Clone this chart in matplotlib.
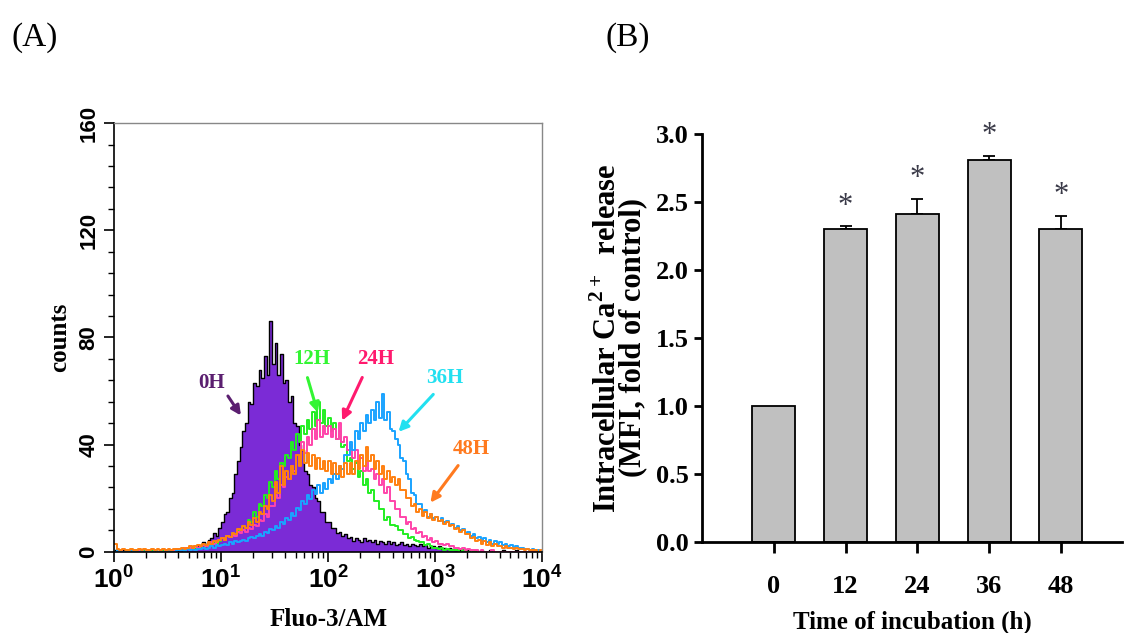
import numpy as np
import matplotlib
matplotlib.use('Agg')
from matplotlib import pyplot as plt
from matplotlib.ticker import MultipleLocator, LogLocator, NullFormatter

plt.rcParams['mathtext.fontset'] = 'custom'
plt.rcParams['mathtext.rm'] = 'Liberation Serif:bold'
plt.rcParams['mathtext.sf'] = 'Liberation Sans:bold'

# flow cytometry channels, log10 of Fluo-3/AM intensity (bin centres, 40 per decade)
log_fl = np.arange(160) * 0.025 + 0.0125

counts_0h = [0.5, 0, 0, 0.5, 0, 0, 0.5, 0, 0, 0, 0.5, 0, 0, 0, 0.5, 0, 0, 0.5, 0, 0, 0.5, 0, 0.5, 0,
             1, 0.5, 1, 1.5, 1, 2, 1.5, 2.5,
             2.5, 3.5, 3, 4.5, 5, 7, 6, 9,
             11, 14, 15, 20, 22, 29, 34, 39,
             45, 48, 56, 55, 63, 62, 68, 65,
             73, 66, 86, 70, 78, 66, 74, 63,
             64, 56, 58, 48, 47, 40, 38, 30,
             29, 25, 24, 20, 19, 15, 15, 11,
             11, 9, 9, 7, 7.5, 6, 6.5, 5,
             5.5, 4, 5, 4.5, 3.5, 5, 4, 4.5,
             3.5, 4.5, 3, 4, 3.5, 3, 4, 3,
             3.5, 2.5, 3, 3.5, 2.5, 3, 2, 3,
             2.5, 2, 3, 2, 2.5, 1.5, 2, 2,
             1.5, 2, 1, 1.5, 1, 1.5, 1, 0.5,
             1, 0.5, 1, 0.5, 0.5, 0, 0.5, 0.5,
             0, 0.5, 0, 0, 0.5, 0, 0, 0, 0, 0.5, 0, 0, 0, 0, 0.5, 0, 0, 0, 0, 0.5, 0, 0, 0, 0]
counts_12h = [0, 0.5, 0, 0, 0, 0.5, 0, 0, 0.5, 0, 0, 0.5, 0, 0, 0.5, 0, 0, 0, 0.5, 0, 0.5, 0, 0.5, 0.5,
              0.5, 1, 0.5, 1, 1, 1.5, 1, 1.5,
              2, 1.5, 2.5, 2, 3, 3.5, 3, 4,
              5, 4.5, 6, 5.5, 7, 6.5, 8, 8.5,
              9.5, 9, 12, 11, 15, 13, 18, 17,
              21, 20, 26, 24, 30, 27, 33, 32,
              36, 35, 41, 38, 44, 41, 47, 44,
              49, 46, 52, 47, 56, 48, 53, 47,
              50, 45, 48, 42, 45, 39, 40, 34,
              35, 31, 33, 28, 30, 25, 27, 22,
              23, 19, 19, 16, 16, 12, 13, 10,
              10, 9.5, 8, 8, 6.5, 6.5, 5, 5.5,
              4.5, 4, 3.5, 3.5, 2.5, 3, 2, 1.5,
              1.5, 1, 1.5, 0.5, 1, 0.5, 0.5, 0.5,
              0.5, 0, 0.5, 0, 0, 0.5, 0, 0,
              0, 0, 0, 0, 0, 0, 0, 0, 0, 0, 0, 0, 0, 0, 0, 0, 0, 0, 0, 0, 0, 0, 0, 0]
counts_24h = [0, 0, 0.5, 0, 0, 0, 0.5, 0, 0, 0.5, 0, 0, 0.5, 0, 0, 0.5, 0, 0, 0, 0.5, 0, 0.5, 0.5, 1,
              1, 0.5, 1.5, 1, 1.5, 1, 2, 1.5,
              2, 2.5, 2, 3, 3.5, 3, 4, 4.5,
              5, 4.5, 6, 5.5, 6.5, 6, 7.5, 7,
              8, 7.5, 9, 8.5, 10, 9.5, 12, 11.5,
              14, 13, 17, 17, 21, 20, 25, 24,
              28, 27, 32, 30, 36, 34, 41, 37,
              43, 40, 46, 42, 49, 43, 47, 44,
              47, 43, 46, 42, 48, 41, 43, 38,
              40, 35, 38, 33, 35, 30, 34, 30,
              31, 27, 29, 25, 27, 22, 24, 19,
              19, 16, 16, 13, 13, 10.5, 11, 8.5,
              9, 7, 7.5, 5.5, 6, 4.5, 5, 3.5,
              4, 3, 3, 2.5, 3, 2, 2, 1.5,
              1.5, 1, 1.5, 0.5, 1, 0.5, 0.5, 0.5,
              0, 0.5, 0, 0, 0, 0.5, 0, 0, 0, 0, 0, 0, 0, 0, 0, 0, 0, 0, 0, 0, 0, 0, 0, 0]
counts_36h = [0, 0.5, 0, 0, 0, 0, 0.5, 0, 0, 0, 0.5, 0, 0, 0, 0, 0.5, 0, 0, 0, 0, 0.5, 0, 0, 0.5,
              0.5, 0.5, 0, 1, 0.5, 1, 0.5, 1,
              1, 1.5, 1, 1.5, 2, 1.5, 2.5, 2,
              2.5, 3, 2.5, 3.5, 3, 4, 3.5, 4,
              4.5, 4, 5, 5.5, 5, 6, 6.5, 6,
              7.5, 7, 8.5, 8, 9.5, 9, 11, 10.5,
              12.5, 12, 14.5, 13.5, 16.5, 15.5, 19, 18,
              21, 19.5, 23, 21.5, 25, 22, 25.5, 23.5,
              27, 25.5, 29, 27, 32, 31, 36, 36,
              41, 38, 45, 42, 48, 45, 51, 48,
              53, 49, 56, 50, 59, 49, 52, 46,
              45, 42, 40, 35, 34, 29, 27, 22,
              21, 18, 18, 15, 15.5, 13, 14, 12.5,
              13, 11.5, 12.5, 11, 11.5, 10, 10.5, 9,
              9.5, 8, 8.5, 7, 7.5, 6, 6.5, 5,
              5.5, 4, 5, 3.5, 4.5, 3, 4, 3,
              3.5, 2.5, 3, 2, 2.5, 1.5, 2, 1.5,
              1.5, 1, 1, 0.5, 1, 0.5, 0.5, 0]
counts_48h = [3, 1, 0.5, 1, 0.5, 0.5, 1, 0.5, 0.5, 1, 0.5, 1, 0.5, 0.5, 1, 0.5, 1, 0.5, 1, 0.5, 1, 0.5, 1, 1,
              1, 1.5, 1, 1.5, 2, 1.5, 2, 2.5,
              2, 3, 2.5, 3.5, 3, 4, 3.5, 4.5,
              5, 4.5, 6, 5.5, 7, 6.5, 8.5, 8,
              9.5, 9, 11, 10, 12.5, 11, 15, 14,
              17, 16, 21, 19, 26, 22, 32, 25,
              30, 27, 32, 29, 36, 32, 38, 33,
              37, 32, 36, 31, 35, 31, 34, 30,
              34, 29, 33, 29, 32, 28, 33, 29,
              33, 29, 34, 31, 36, 32, 39, 34,
              36, 31, 34, 29, 32, 27, 30, 26,
              28, 25, 27, 23, 23, 20, 20, 17,
              18, 15, 16, 13.5, 15, 12.5, 14, 12,
              13, 11.5, 12, 10.5, 11, 9.5, 10, 8.5,
              9, 7.5, 8, 6.5, 6.5, 5, 5.5, 4,
              4.5, 3, 4, 2.5, 3.5, 2, 3, 2,
              2, 1.5, 2, 1.5, 1.5, 1, 1.5, 1,
              1, 0.5, 1, 0.5, 0.5, 0.5, 0, 0.5]

# bar chart values
times = ['0', '12', '24', '36', '48']
mfi = [1.0, 2.30, 2.41, 2.81, 2.30]
mfi_err = [0.0, 0.02, 0.11, 0.03, 0.10]
signif = [False, True, True, True, True]

fig = plt.figure(figsize=(11.24, 6.33), dpi=100)

# ---- (A) histogram overlay ----
axA = fig.add_axes([0.1014, 0.1284, 0.381, 0.677])
fl = 10 ** log_fl

axA.fill_between(fl, counts_0h, step='mid', color='#7b2bd6', lw=0)
axA.step(fl, counts_0h, where='mid', color='black', lw=1.0)
axA.step(fl, counts_12h, where='mid', color='#22ee22', lw=1.4)
axA.step(fl, counts_24h, where='mid', color='#ff44aa', lw=1.4)
axA.step(fl, counts_36h, where='mid', color='#1aa3ff', lw=1.4)
axA.step(fl, counts_48h, where='mid', color='#ff8010', lw=1.4)

axA.set_xscale('log')
axA.set_xlim(1, 1e4)
axA.set_ylim(0, 160)
axA.yaxis.set_minor_locator(MultipleLocator(8))
axA.xaxis.set_minor_locator(LogLocator(base=10, subs=np.arange(2, 10), numticks=10))
axA.xaxis.set_minor_formatter(NullFormatter())
axA.set_xticks([1, 10, 100, 1000, 10000])
axA.set_xticklabels([r'$\mathsf{10^{%d}}$' % k for k in range(5)], fontsize=19)
axA.set_yticks([0, 40, 80, 120, 160])
axA.set_yticklabels(['0', '40', '80', '120', '160'], rotation=90, va='center',
                    family='Liberation Sans', weight='bold', fontsize=16)
axA.tick_params(axis='both', which='major', direction='out', length=7, width=1.2)
axA.tick_params(axis='both', which='minor', direction='out', length=4, width=1.0)
axA.tick_params(axis='x', which='major', pad=4)
for side in ['top', 'right']:
    axA.spines[side].set_color('#888888')
    axA.spines[side].set_linewidth(1.0)
for side in ['left', 'bottom']:
    axA.spines[side].set_linewidth(1.2)

axA.set_xlabel('Fluo-3/AM', family='Liberation Serif', weight='bold', fontsize=18, labelpad=10)
axA.set_ylabel('counts', family='Liberation Serif', weight='bold', fontsize=18, labelpad=5)

# labels with arrows pointing at each curve
tags = ['0H', '12H', '24H', '36H', '48H']
tag_colors = ['#5b1f70', '#33f533', '#ff1a6e', '#22e0f0', '#ff7a1f']
tag_pos = [(10 ** 0.91, 63), (10 ** 1.85, 72), (10 ** 2.44, 72), (10 ** 3.09, 65), (10 ** 3.34, 38.5)]
arrow_tail = [(10 ** 1.05, 59), (10 ** 1.80, 66), (10 ** 2.33, 66), (10 ** 3.00, 59.5), (10 ** 3.23, 33)]
arrow_head = [(10 ** 1.20, 50), (10 ** 1.91, 51), (10 ** 2.12, 48), (10 ** 2.64, 44), (10 ** 2.94, 17.5)]
for t, c, p, a0, a1 in zip(tags, tag_colors, tag_pos, arrow_tail, arrow_head):
    axA.text(p[0], p[1], t, color=c, ha='center', va='center',
             family='Liberation Serif', weight='bold', fontsize=15)
    axA.annotate('', xy=a1, xytext=a0,
                 arrowprops=dict(arrowstyle='-|>', color=c, lw=2.2, mutation_scale=14))

# ---- (B) bar chart ----
axB = fig.add_axes([0.6245, 0.1438, 0.3737, 0.6446])
xpos = np.arange(len(times))
axB.bar(xpos, mfi, width=0.6, color='#c0c0c0', edgecolor='black', lw=1.3, zorder=2)
for i in range(len(times)):
    if signif[i]:
        axB.errorbar(xpos[i], mfi[i], yerr=[[0], [mfi_err[i]]], fmt='none',
                     ecolor='black', elinewidth=1.3, capsize=4.5, capthick=1.3, zorder=1)
        axB.text(xpos[i], mfi[i] + mfi_err[i] + 0.15, '*', ha='center', va='center',
                 color='#3a3a48', family='Liberation Serif', fontsize=22)

axB.set_xlim(-1.0, 4.85)
axB.set_ylim(0, 3.0)
axB.set_yticks(np.arange(0, 3.01, 0.5))
axB.set_yticklabels(['%.1f' % v for v in np.arange(0, 3.01, 0.5)],
                    family='Liberation Serif', weight='bold', fontsize=19)
axB.set_xticks(xpos)
axB.set_xticklabels(times, family='Liberation Serif', weight='bold', fontsize=19)
axB.tick_params(axis='y', direction='out', length=6, width=2)
axB.tick_params(axis='x', direction='out', length=8, width=2, pad=16)
axB.spines['top'].set_visible(False)
axB.spines['right'].set_visible(False)
axB.spines['left'].set_linewidth(2)
axB.spines['bottom'].set_linewidth(2)

axB.set_xlabel('Time of incubation (h)', family='Liberation Serif', weight='bold',
               fontsize=18, labelpad=9)
axB.set_ylabel('Intracellular Ca$^{\\mathrm{2+}}$  release\n(MFI, fold of control)',
               family='Liberation Serif', weight='bold', fontsize=22,
               linespacing=0.8, labelpad=6)

# panel letters
fig.text(35 / 1124, 1 - 38 / 633, '(A)', ha='center', va='center',
         family='Liberation Serif', fontsize=24)
fig.text(628 / 1124, 1 - 38 / 633, '(B)', ha='center', va='center',
         family='Liberation Serif', fontsize=24)

fig.savefig('out.png', dpi=100)
